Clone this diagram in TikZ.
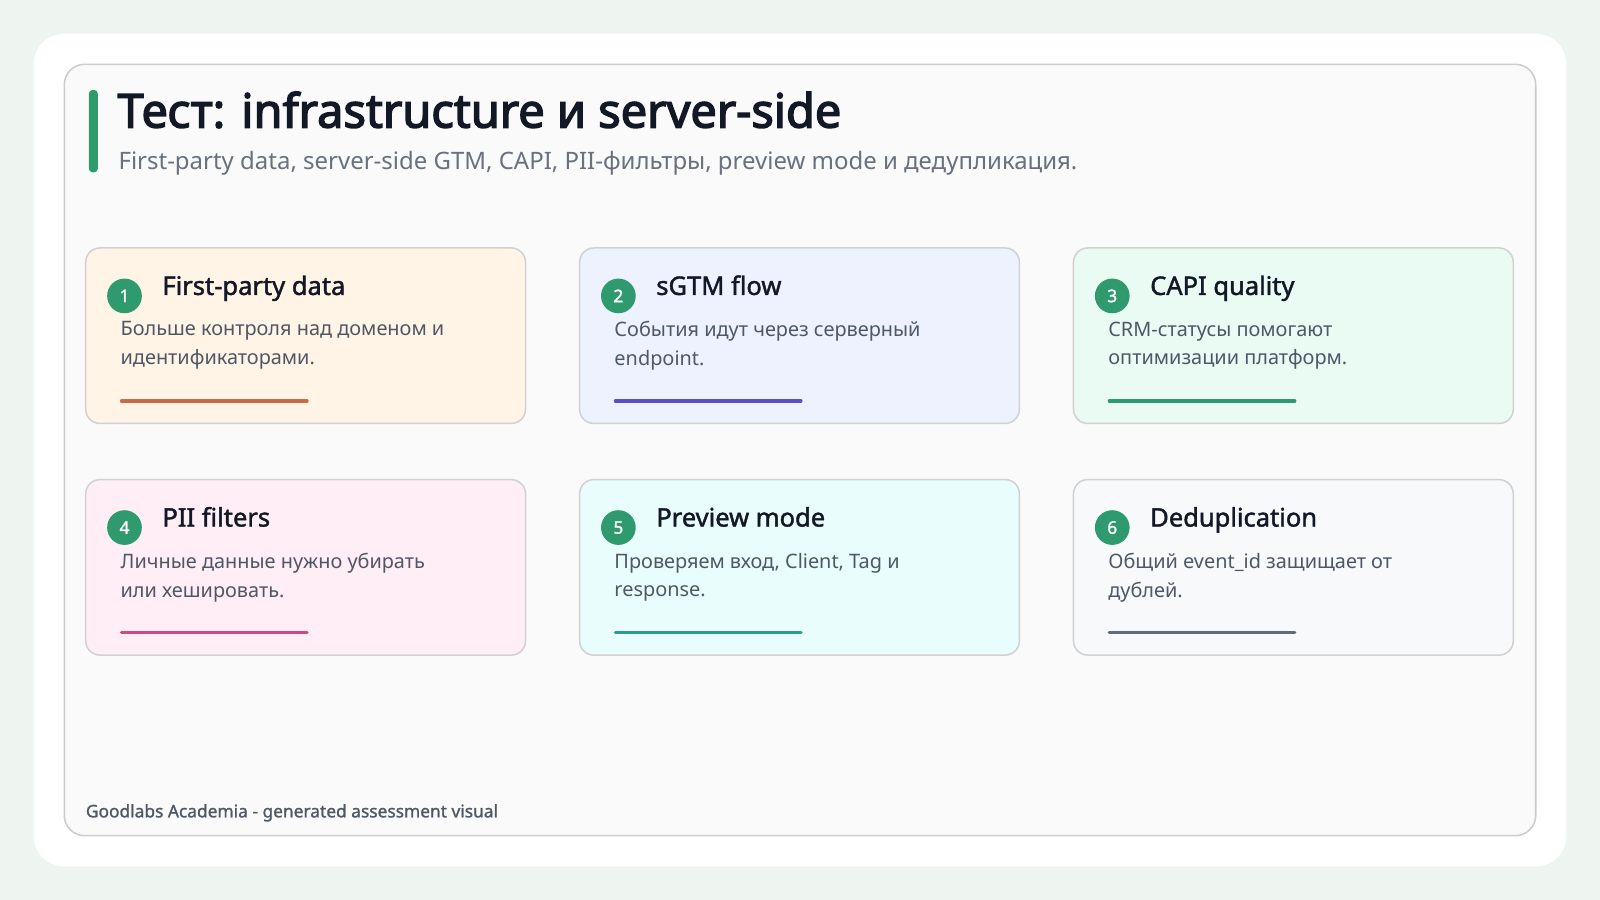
\documentclass[tikz,border=0pt]{standalone}
\usepackage{fontspec}
\setmainfont{Noto Sans}
\newfontfamily\heavy{Noto Sans}[FakeBold=3]
\newfontfamily\semib{Noto Sans}[FakeBold=1.6]
\newfontfamily\lightb{Noto Sans}[FakeBold=1.2]
\begin{document}
\begin{tikzpicture}[x=1pt,y=-1pt,
  card/.style={draw=black!18,line width=1.5pt,rounded corners=14pt},
  num/.style={circle,fill=numc,text=white,minimum size=34pt,inner sep=0pt,font=\fontsize{17}{17}\semib},
  ctitle/.style={anchor=base west,inner sep=0pt,font=\fontsize{25}{25}\semib,text=titc},
  cbody/.style={anchor=north west,inner sep=0pt,align=left,font=\fontsize{19.5}{28}\selectfont,text=bodyc}]
\definecolor{numc}{HTML}{2E9A6E}
\definecolor{titc}{HTML}{121826}
\definecolor{bodyc}{HTML}{4F5866}
\useasboundingbox (0,0) rectangle (1568,882);
\fill[fill={rgb,255:red,238;green,245;blue,240}] (0,0) rectangle (1568,882);
\fill[white,rounded corners=30pt] (33,33) rectangle (1535,849);
\draw[fill={rgb,255:red,250;green,250;blue,250},draw=black!20,line width=1.5pt,rounded corners=20pt] (63,63) rectangle (1505,819);
\fill[numc,rounded corners=4pt] (87,88) rectangle (96,169);
\node[anchor=base west,inner sep=0pt,font=\fontsize{46}{46}\heavy,text=titc] (title) at (115,125) {Тест: infrastructure и server-side};
\node[anchor=base west,inner sep=0pt,font=\fontsize{23.5}{22}\selectfont,text=bodyc!85] (sub) at (116,166) {First-party data, server-side GTM, CAPI, PII-фильтры, preview mode и дедупликация.};
\node[anchor=base west,inner sep=0pt,font=\fontsize{17}{16}\lightb,text=bodyc] (foot) at (84,801) {Goodlabs Academia - generated assessment visual};
\foreach \i/\x/\y/\fc/\lc/\t/\b in {
 1/84/243/FFF4E6/C8694A/{First-party data}/{Больше контроля над доменом и\\идентификаторами.},
 2/568/243/EEF2FF/5B4FC9/{sGTM flow}/{События идут через серверный\\endpoint.},
 3/1052/243/E9FBF3/2E9A74/{CAPI quality}/{CRM-статусы помогают\\оптимизации платформ.},
 4/84/470/FFEEF5/D6457F/{PII filters}/{Личные данные нужно убирать\\или хешировать.},
 5/568/470/E8FDFC/2A9D90/{Preview mode}/{Проверяем вход, Client, Tag и\\response.},
 6/1052/470/F7F9FB/5E6B80/{Deduplication}/{Общий event\_id защищает от\\дублей.}}{
 \definecolor{fc}{HTML}{\fc}\definecolor{lc}{HTML}{\lc}
 \draw[card,fill=fc] (\x,\y) rectangle ++(431,172);
 \node[num] (n\i) at (\x+38,\y+47) {\i};
 \node[ctitle] (t\i) at (\x+75,\y+46) {\t};
 \node[cbody] (b\i) at (\x+34,\y+72) {\b};
 \draw[lc,line width=3pt,line cap=round] (\x+35,\y+150) -- (\x+217,\y+150);
}
\end{tikzpicture}
\end{document}
